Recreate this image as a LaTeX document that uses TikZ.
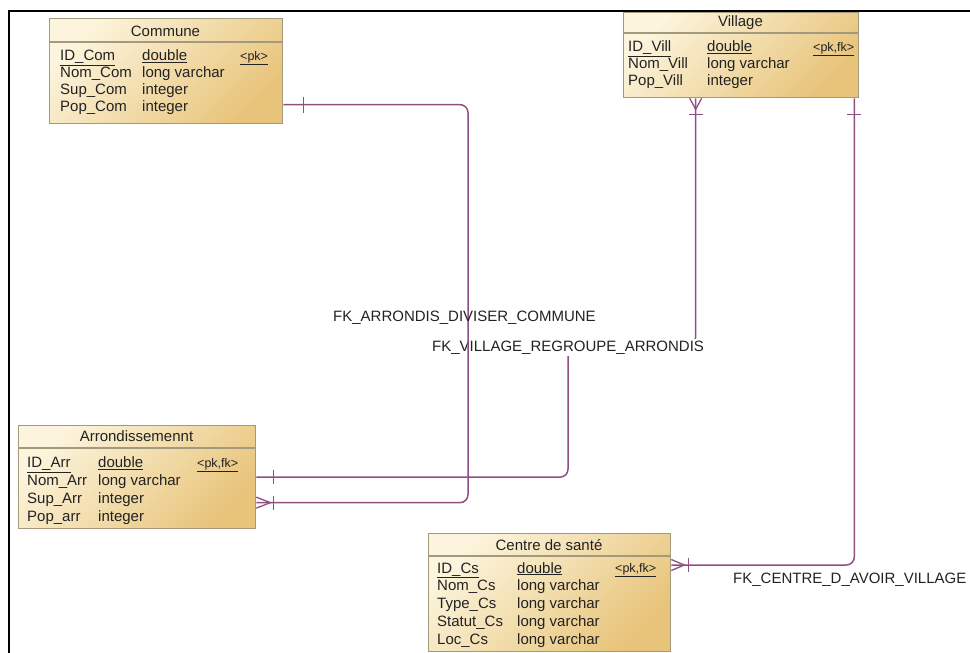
\documentclass[tikz,border=0pt]{standalone}
\usepackage{fontspec}
\setmainfont{Liberation Sans}
\usetikzlibrary{calc}
\definecolor{boxlight}{HTML}{FCF4DC}
\definecolor{boxdark}{HTML}{E8C47A}
\definecolor{boxline}{HTML}{A39A7E}
\definecolor{fkline}{HTML}{8E4F82}
\definecolor{txt}{HTML}{222222}
\tikzset{
  erbox/.style={draw=boxline, line width=1.3pt, anchor=north west, inner sep=0pt,
    top color=boxlight, bottom color=boxdark, shading angle=45},
  sep/.style={draw=boxline, line width=1.1pt},
  fld/.style={anchor=base west, inner sep=0pt, font=\fontsize{15}{18}\selectfont, text=txt},
  pktag/.style={anchor=base west, inner sep=0pt, font=\fontsize{12.5}{15}\selectfont, text=txt},
  ttl/.style={anchor=base, inner sep=0pt, font=\fontsize{15}{18}\selectfont, text=txt},
  fk/.style={draw=fkline, line width=1.5pt, rounded corners=8pt},
  fkmark/.style={draw=fkline, line width=1.3pt},
  lbl/.style={anchor=base west, inner sep=2pt, font=\fontsize{15}{18}\selectfont, text=txt}
}
\begin{document}
\begin{tikzpicture}[x=1pt,y=-1pt]
\useasboundingbox (0,0) rectangle (970,653);
% outer frame
\draw[line width=2pt, black] (9,653) -- (9,11) -- (970,11);

% ---------- boxes ----------
\node[erbox, minimum width=233pt, minimum height=105pt] (commune) at (49,18) {};
\node[erbox, minimum width=235pt, minimum height=85pt] (village) at (623,12) {};
\node[erbox, minimum width=237pt, minimum height=103pt] (arr) at (18,425) {};
\node[erbox, minimum width=242pt, minimum height=118pt] (centre) at (428,533) {};

\draw[sep] ([yshift=-24pt]commune.north west) -- ([yshift=-24pt]commune.north east);
\draw[sep] ([yshift=-21pt]village.north west) -- ([yshift=-21pt]village.north east);
\draw[sep] ([yshift=-23pt]arr.north west) -- ([yshift=-23pt]arr.north east);
\draw[sep] ([yshift=-23pt]centre.north west) -- ([yshift=-23pt]centre.north east);

% Commune
\node[ttl] (tcom) at (165.5,36.5) {Commune};
\node[fld] (c1a) at (60,60.5) {\underline{ID\_Com}};
\node[fld] (c1b) at (142,60.5) {\underline{double}};
\node[pktag] (c1c) at (240,60) {\underline{<pk>}};
\node[fld] (c2a) at (60,77.5) {Nom\_Com};
\node[fld] (c2b) at (142,77.5) {long varchar};
\node[fld] (c3a) at (60,94.5) {Sup\_Com};
\node[fld] (c3b) at (142,94.5) {integer};
\node[fld] (c4a) at (60,111.5) {Pop\_Com};
\node[fld] (c4b) at (142,111.5) {integer};

% Village
\node[ttl] (tvil) at (740.5,27) {Village};
\node[fld] (v1a) at (628,51.5) {\underline{ID\_Vill}};
\node[fld] (v1b) at (707,51.5) {\underline{double}};
\node[pktag] (v1c) at (813,51) {\underline{<pk,fk>}};
\node[fld] (v2a) at (628,68.5) {Nom\_Vill};
\node[fld] (v2b) at (707,68.5) {long varchar};
\node[fld] (v3a) at (628,85.5) {Pop\_Vill};
\node[fld] (v3b) at (707,85.5) {integer};

% Arrondissement
\node[ttl] (tarr) at (136.5,441.5) {Arrondissemennt};
\node[fld] (a1a) at (27,467.5) {\underline{ID\_Arr}};
\node[fld] (a1b) at (98,467.5) {\underline{double}};
\node[pktag] (a1c) at (197,467) {\underline{<pk,fk>}};
\node[fld] (a2a) at (27,485) {Nom\_Arr};
\node[fld] (a2b) at (98,485) {long varchar};
\node[fld] (a3a) at (27,503) {Sup\_Arr};
\node[fld] (a3b) at (98,503) {integer};
\node[fld] (a4a) at (27,521) {Pop\_arr};
\node[fld] (a4b) at (98,521) {integer};

% Centre de sante
\node[ttl] (tcs) at (549,550) {Centre de santé};
\node[fld] (s1a) at (437,573) {\underline{ID\_Cs}};
\node[fld] (s1b) at (517,573) {\underline{double}};
\node[pktag] (s1c) at (615,572.5) {\underline{<pk,fk>}};
\node[fld] (s2a) at (437,590.5) {Nom\_Cs};
\node[fld] (s2b) at (517,590.5) {long varchar};
\node[fld] (s3a) at (437,608) {Type\_Cs};
\node[fld] (s3b) at (517,608) {long varchar};
\node[fld] (s4a) at (437,626) {Statut\_Cs};
\node[fld] (s4b) at (517,626) {long varchar};
\node[fld] (s5a) at (437,644) {Loc\_Cs};
\node[fld] (s5b) at (517,644) {long varchar};

% ---------- connection points ----------
\coordinate (cA) at ([yshift=-33.5pt]commune.east);
\coordinate (aL) at ([yshift=-25.5pt]arr.east);
\coordinate (aU) at (arr.east);
\coordinate (vA) at ([xshift=-45.5pt]village.south);
\coordinate (vB) at ([xshift=-5pt]village.south east);
\coordinate (cR) at ([yshift=-32pt]centre.north east);
\coordinate (j1) at (468,0);
\coordinate (j2) at (568,0);
\coordinate (jy) at (0,345);

% FK_VILLAGE_REGROUPE_ARRONDIS
\draw[fk] (aU) -| (j2 |- jy) -| (vA);
\draw[fkmark] ([xshift=17pt,yshift=7pt]aU) -- ([xshift=17pt,yshift=-7pt]aU);
\draw[fkmark] ([xshift=-6pt]vA) -- ([yshift=-11pt]vA) -- ([xshift=6pt]vA);
\draw[fkmark] ([xshift=-7pt,yshift=-16pt]vA) -- ([xshift=7pt,yshift=-16pt]vA);
\node[lbl, fill=white] (l2) at (430,351.5) {FK\_VILLAGE\_REGROUPE\_ARRONDIS};

% FK_ARRONDIS_DIVISER_COMMUNE
\draw[fk] (cA) -| (j1 |- aL) -- (aL);
\draw[fkmark] ([xshift=20pt,yshift=8pt]cA) -- ([xshift=20pt,yshift=-8pt]cA);
\draw[fkmark] ([yshift=5.5pt]aL) -- ([xshift=14pt]aL) -- ([yshift=-5.5pt]aL);
\draw[fkmark] ([xshift=17pt,yshift=7pt]aL) -- ([xshift=17pt,yshift=-7pt]aL);
\node[lbl] (l1) at (331,321) {FK\_ARRONDIS\_DIVISER\_COMMUNE};

% FK_CENTRE_D_AVOIR_VILLAGE
\draw[fk] (vB) |- (cR);
\draw[fkmark] ([xshift=-7pt,yshift=-16pt]vB) -- ([xshift=7pt,yshift=-16pt]vB);
\draw[fkmark] ([yshift=5.5pt]cR) -- ([xshift=13pt]cR) -- ([yshift=-5.5pt]cR);
\draw[fkmark] ([xshift=17pt,yshift=7pt]cR) -- ([xshift=17pt,yshift=-7pt]cR);
\node[lbl] (l3) at (731,583) {FK\_CENTRE\_D\_AVOIR\_VILLAGE};
\end{tikzpicture}
\end{document}
